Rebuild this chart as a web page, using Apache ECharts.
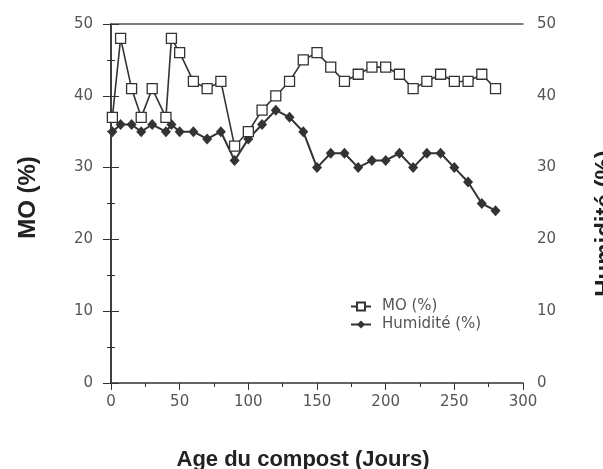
<!DOCTYPE html>
<html><head><meta charset="utf-8">
<script src="https://cdn.jsdelivr.net/npm/echarts@6/dist/echarts.min.js"></script>
<style>html,body{margin:0;padding:0;background:#fff}#c{width:603px;height:469px}</style>
</head><body><div id="c"></div>
<script>
const days = [1, 7, 15, 22, 30, 40, 44, 50, 60, 70, 80, 90, 100, 110, 120, 130, 140, 150, 160, 170, 180, 190, 200, 210, 220, 230, 240, 250, 260, 270, 280];
const moValues = [37, 48, 41, 37, 41, 37, 48, 46, 42, 41, 42, 33, 35, 38, 40, 42, 45, 46, 44, 42, 43, 44, 44, 43, 41, 42, 43, 42, 42, 43, 41];
const humValues = [35, 36, 36, 35, 36, 35, 36, 35, 35, 34, 35, 31, 34, 36, 38, 37, 35, 30, 32, 32, 30, 31, 31, 32, 30, 32, 32, 30, 28, 25, 24];
const xTicks = [0, 50, 100, 150, 200, 250, 300];
const yTicks = [0, 10, 20, 30, 40, 50];

const chart = echarts.init(document.getElementById('c'), null, {renderer: 'canvas'});
const lineCol = '#333';
const labelStyle = {color: '#555', fontSize: 15, fontFamily: 'DejaVu Sans'};
const nameStyle = {color: '#222', fontSize: 21, fontWeight: 'bold', fontFamily: 'Liberation Sans'};
const yAxisCommon = {
  type: 'value', min: yTicks[0], max: yTicks[yTicks.length - 1], interval: 10,
  axisLine: {show: true, lineStyle: {color: lineCol, width: 1.5}},
  axisTick: {show: true, inside: false, length: 8, lineStyle: {color: lineCol}},
  minorTick: {show: true, splitNumber: 2, length: 4, lineStyle: {color: lineCol}},
  splitLine: {show: false},
  nameLocation: 'middle', nameRotate: 90
};
chart.setOption({
  animation: false,
  grid: {left: 111, right: 80, top: 24, bottom: 86, containLabel: false, outerBoundsMode: 'none'},
  legend: {
    left: 345, top: 294, orient: 'vertical', itemGap: 3, itemWidth: 20, itemHeight: 10,
    textStyle: {color: '#555', fontSize: 15, fontFamily: 'DejaVu Sans', padding: [0, 0, 0, 6]},
    data: ['MO (%)', 'Humidité (%)']
  },
  xAxis: [{
    type: 'value', min: xTicks[0], max: xTicks[xTicks.length - 1], interval: 50,
    axisLine: {show: true, onZero: false, lineStyle: {color: lineCol, width: 1.5}},
    axisTick: {show: true, length: 7, lineStyle: {color: lineCol}},
    minorTick: {show: true, splitNumber: 2, length: 4, lineStyle: {color: lineCol}},
    splitLine: {show: false},
    axisLabel: Object.assign({margin: 12}, labelStyle),
    name: 'Age du compost (Jours)', nameLocation: 'middle', nameGap: 66,
    nameTextStyle: Object.assign({}, nameStyle, {fontSize: 22, padding: [0, 28, 0, 0]})
  }, {
    type: 'value', position: 'top', min: 0, max: 300,
    axisLine: {show: true, onZero: false, lineStyle: {color: '#555', width: 1.5}},
    axisTick: {show: false}, axisLabel: {show: false}, splitLine: {show: false}
  }],
  yAxis: [
    Object.assign({}, yAxisCommon, {position: 'left', name: 'MO (%)', nameGap: 71,
      nameTextStyle: Object.assign({}, nameStyle, {fontSize: 24, padding: [0, 0, 0, 12]}),
      axisLabel: Object.assign({margin: 18}, labelStyle)}),
    Object.assign({}, yAxisCommon, {position: 'right', name: 'Humidité (%)', nameGap: 70,
      nameTextStyle: Object.assign({}, nameStyle, {fontSize: 24, padding: [0, 40, 0, 0]}),
      axisLabel: Object.assign({margin: 14}, labelStyle)})
  ],
  series: [{
    name: 'MO (%)', type: 'line', xAxisIndex: 0, yAxisIndex: 0,
    data: days.map((d, i) => [d, moValues[i]]),
    symbol: 'rect', symbolSize: 10,
    lineStyle: {color: lineCol, width: 1.6},
    itemStyle: {color: '#fff', borderColor: lineCol, borderWidth: 1.3},
    z: 3
  }, {
    name: 'Humidité (%)', type: 'line', xAxisIndex: 0, yAxisIndex: 1,
    data: days.map((d, i) => [d, humValues[i]]),
    symbol: 'diamond', symbolSize: [10, 11],
    lineStyle: {color: lineCol, width: 2},
    itemStyle: {color: lineCol, borderColor: lineCol, borderWidth: 0},
    z: 2
  }]
});
</script></body></html>
